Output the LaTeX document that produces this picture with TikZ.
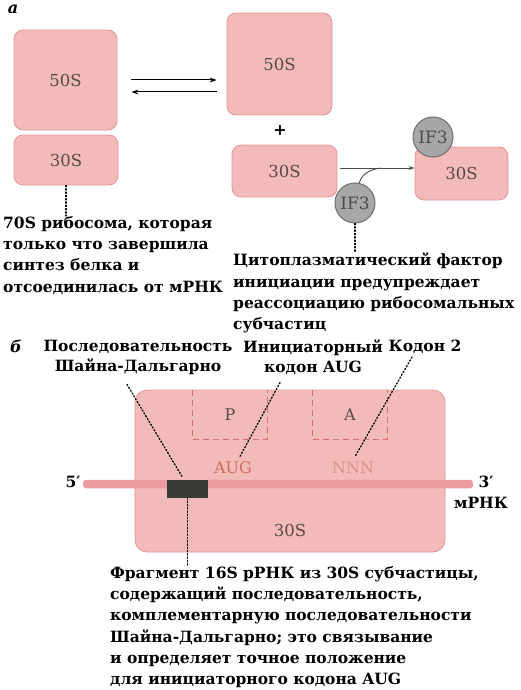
\documentclass[tikz,border=0pt]{standalone}
\usepackage{fontspec}
\setmainfont{DejaVu Serif}
\usetikzlibrary{arrows.meta,positioning,calc}
\definecolor{ribopink}{RGB}{243,186,186}
\definecolor{riboedge}{RGB}{224,150,150}
\definecolor{factgray}{RGB}{168,166,166}
\definecolor{factedge}{RGB}{110,108,108}
\definecolor{rnapink}{RGB}{236,156,160}
\definecolor{sitered}{RGB}{214,112,112}
\definecolor{labeldark}{RGB}{88,72,72}
\definecolor{augred}{RGB}{204,112,92}
\definecolor{nnnred}{RGB}{218,150,136}
\definecolor{sdblack}{RGB}{58,58,52}

\begin{document}
\begin{tikzpicture}[x=1pt,y=-1pt,
  subunit/.style={draw=riboedge, fill=ribopink, rounded corners=9pt, line width=0.8pt,
                  inner sep=0pt, font=\fontsize{16.5}{16.5}\selectfont, text=labeldark},
  factor/.style={circle, draw=factedge, fill=factgray, minimum size=40pt, inner sep=0pt,
                 line width=1pt, font=\fontsize{17}{17}\selectfont, text=black!70},
  note/.style={align=left, font=\fontsize{15.5}{21.3}\selectfont\bfseries, inner sep=0pt},
  caption/.style={align=center, font=\fontsize{15.5}{20}\selectfont\bfseries, inner sep=0pt},
  partlabel/.style={font=\fontsize{16}{16}\selectfont\bfseries\itshape, inner sep=0pt},
  site/.style={draw=none, minimum width=74pt, minimum height=49pt, inner sep=0pt,
               font=\fontsize{16}{16}\selectfont, text=labeldark},
  sitebox/.style={sitered, dashed, dash pattern=on 6pt off 4pt, line width=1pt},
  leader/.style={dotted, line width=1.3pt, line cap=round},
  arr/.style={-{Stealth[length=7pt,width=5pt]}, line width=1pt}
]
\useasboundingbox (0,0) rectangle (520,690);
% part a
\node[partlabel] (pa) at (13,9) {а};
\node[subunit, minimum width=103pt, minimum height=100pt] (L50) at (65.5,80) {50S};
\node[subunit, minimum width=104pt, minimum height=50pt] (L30) at (66,160) {30S};
\node[subunit, minimum width=105pt, minimum height=102pt] (R50) at (279.5,64) {50S};
\node[font=\fontsize{16}{16}\selectfont\bfseries] (plus) at (280,130) {+};
\node[subunit, minimum width=105pt, minimum height=52pt] (R30) at (284.5,171) {30S};
\node[subunit, minimum width=93pt, minimum height=53pt] (C30) at (461.5,173.5) {30S};
\node[factor] (IF3b) at (433,137) {IF3};
\node[factor] (IF3a) at (355,203) {IF3};
\draw[arr, shorten <=14pt, shorten >=10pt] (L50.east) -- (L50.east -| R50.west);
\draw[arr, shorten <=10pt, shorten >=14pt] ([yshift=-12pt]L50.east -| R50.west) -- ([yshift=-12pt]L50.east);
\draw[-{Stealth[length=6pt,width=4pt]}, black!70, line width=0.9pt, shorten <=3pt] ([yshift=3pt]R30.east) -- ([yshift=3pt]R30.east -| C30.west);
\draw[black!70, line width=0.9pt] (IF3a.78) to[out=75,in=190] ([xshift=43pt, yshift=3pt]R30.east);

\node[note, anchor=north west] (n70S) at (3,216)
  {70S рибосома, которая\\только что завершила\\синтез белка и\\отсоединилась от мРНК};
\node[note, anchor=north west] (nIF3) at (233,253)
  {Цитоплазматический фактор\\инициации предупреждает\\реассоциацию рибосомальных\\субчастиц};
\draw[leader] (L30.south) -- (L30.south |- n70S.north);
\draw[leader] (IF3a.south) -- (IF3a.south |- nIF3.north);

% part b
\node[partlabel] (pb) at (16,346) {б};
\node[caption] (cSD) at (138,357) {Последовательность\\Шайна-Дальгарно};
\node[caption] (cAUG) at (313,357) {Инициаторный\\кодон AUG};
\node[caption] (cK2) at (425,347) {Кодон 2};

\node[subunit, rounded corners=12pt, minimum width=310pt, minimum height=162pt] (B30) at (290,471) {};
\node[font=\fontsize{16.5}{16.5}\selectfont, text=labeldark] (t30S) at (290,530) {30S};
\node[site] (Psite) at (230,414.5) {P};
\node[site] (Asite) at (350,414.5) {A};
\draw[sitebox] (Psite.north west) |- (Psite.south east) -- (Psite.north east);
\draw[sitebox] (Asite.north west) |- (Asite.south east) -- (Asite.north east);
\node[font=\fontsize{16}{16}\selectfont, text=augred] (tAUG) at (233,468) {AUG};
\node[font=\fontsize{16}{16}\selectfont, text=nnnred] (tNNN) at (353,468) {NNN};

\node[fill=rnapink, minimum width=390pt, minimum height=8.5pt, inner sep=0pt, rounded corners=3pt] (mrna) at (278,484) {};
\node[fill=sdblack, minimum width=41pt, minimum height=18pt, inner sep=0pt] (SD) at (187.5,488.5) {};
\node[caption] (five) at (73,482) {5′};
\node[caption] (three) at (486,482) {3′};
\node[caption] (lmRNA) at (481,503) {мРНК};

\node[note, anchor=north west] (n16S) at (110,566)
  {Фрагмент 16S рРНК из 30S субчастицы,\\содержащий последовательность,\\комплементарную последовательности\\Шайна-Дальгарно; это связывание\\и определяет точное положение\\для инициаторного кодона AUG};

\draw[leader] ([xshift=-11pt, yshift=-10pt]cSD.south) -- ([xshift=-5pt, yshift=2pt]SD.north);
\draw[leader] ([xshift=-33pt, yshift=-8pt]cAUG.south) -- ([xshift=7pt, yshift=2pt]tAUG.north);
\draw[leader] ([xshift=-13pt, yshift=-3pt]cK2.south) -- ([xshift=2pt, yshift=2pt]tNNN.north);
\draw[leader] (SD.south) -- (SD.south |- n16S.north);
\end{tikzpicture}
\end{document}
